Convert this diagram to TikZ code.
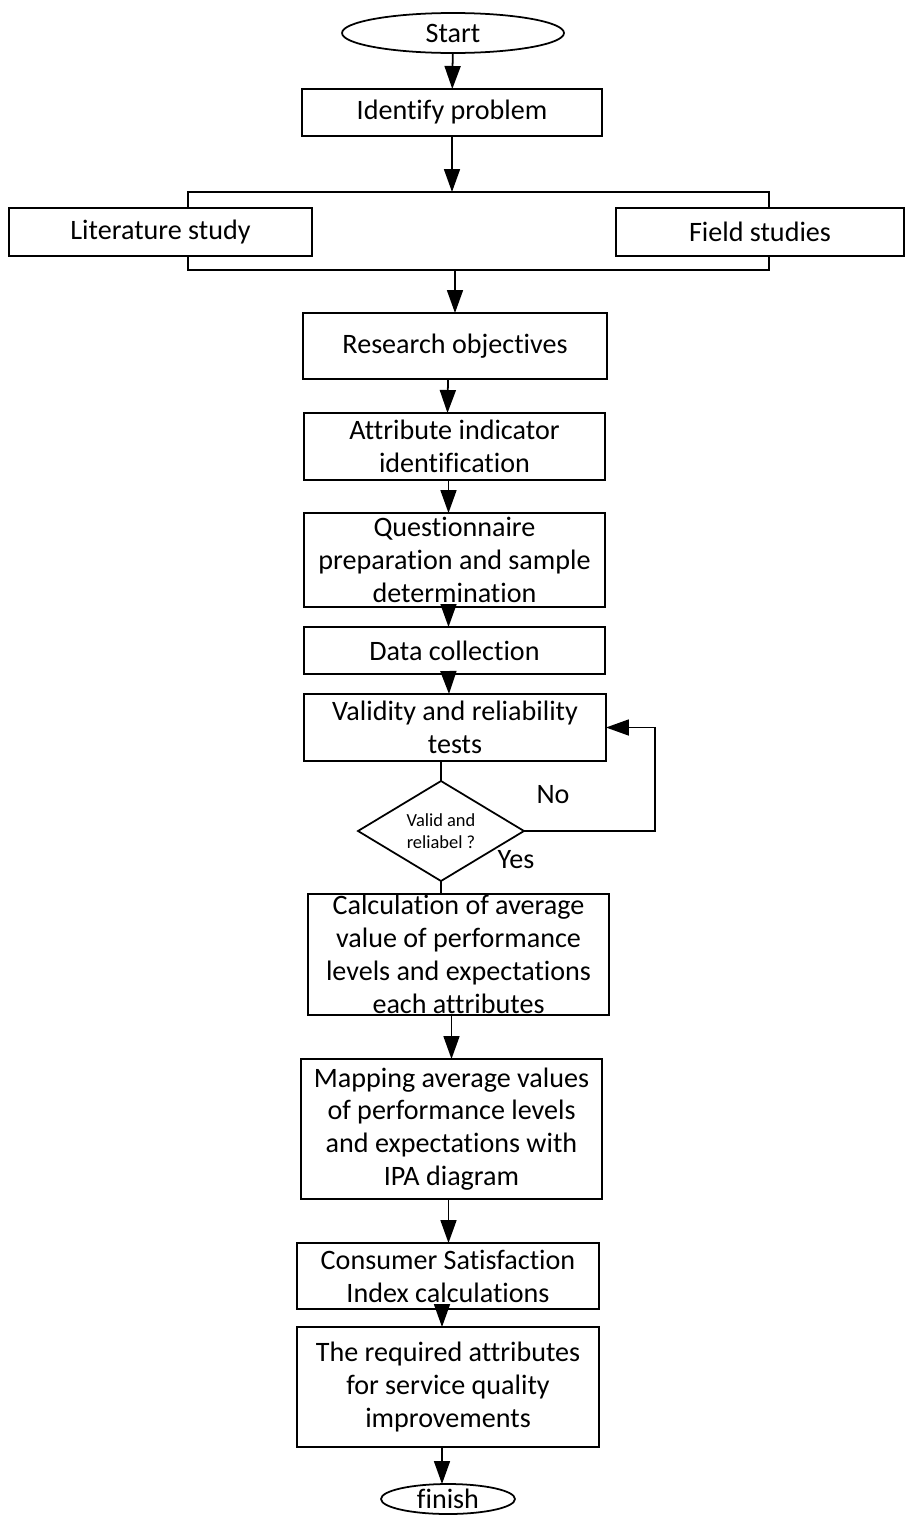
\documentclass[tikz,border=0pt]{standalone}
\usepackage{fontspec}
\setmainfont{Carlito}[Ligatures=NoCommon]
\usetikzlibrary{arrows.meta,shapes.geometric}
\begin{document}
\begin{tikzpicture}[x=0.02cm,y=-0.02cm,
  line width=1pt,
  every node/.style={inner sep=0pt,outer sep=0pt},
  box/.style={draw,rectangle,align=center,font=\fontsize{16}{18.7}\selectfont},
  oval/.style={draw,ellipse,font=\fontsize{16}{18.7}\selectfont},
  lbl/.style={font=\fontsize{16}{18.7}\selectfont},
  arr/.style={-{Triangle[length=0.46cm,width=0.32cm]}}]
\useasboundingbox (0,0) rectangle (906,1515);

\node[oval,minimum width=4.44cm,minimum height=0.8cm] (start) at (453,33) {Start};
\node[box,minimum width=6.0cm,minimum height=0.94cm] (ident) at (452,112.5) {Identify problem};
\node[box,minimum width=6.06cm,minimum height=0.96cm] (lit) at (160.5,232) {Literature study};
\node[box,minimum width=5.76cm,minimum height=0.96cm] (field) at (760,232) {Field studies};
\node[box,minimum width=6.08cm,minimum height=1.32cm] (research) at (455,346) {Research objectives};
\node[box,minimum width=6.02cm,minimum height=1.34cm] (attr) at (454.5,446.5) {Attribute indicator\\identification};
\node[box,minimum width=6.02cm,minimum height=1.88cm] (quest) at (454.5,560) {Questionnaire\\preparation and sample\\determination};
\node[box,minimum width=6.02cm,minimum height=0.94cm] (data) at (454.5,650.5) {Data collection};
\node[box,minimum width=6.04cm,minimum height=1.34cm] (valid) at (455,727.5) {Validity and reliability\\tests};
\node[draw,diamond,aspect=1.66,minimum width=3.32cm,minimum height=2cm,align=center,
  font=\fontsize{10.5}{12.3}\selectfont] (dia) at (441,831) {Valid and\\reliabel ?};
\node[box,minimum width=6.02cm,minimum height=2.42cm] (calc) at (458.5,954.5) {Calculation of average\\value of performance\\levels and expectations\\each attributes};
\node[box,minimum width=6.02cm,minimum height=2.8cm] (map) at (451.5,1129) {Mapping average values\\of performance levels\\and expectations with\\IPA diagram};
\node[box,minimum width=6.04cm,minimum height=1.32cm] (csi) at (448,1276) {Consumer Satisfaction\\Index calculations};
\node[box,minimum width=6.04cm,minimum height=2.4cm] (req) at (448,1387) {The required attributes\\for service quality\\improvements};
\node[oval,minimum width=2.68cm,minimum height=0.6cm] (finish) at (448,1499) {finish};

\node[lbl] (no) at (553,795) {No};
\node[lbl] (yes) at (516,860) {Yes};

\coordinate (tl) at (188,192);
\coordinate (tr) at (769,192);
\coordinate (bl) at (188,270);
\coordinate (br) at (769,270);

\draw[arr] (start) -- (ident);
\draw[arr] (ident.south) -- (ident.south |- tl);
\draw (lit.north -| tl) -- (tl) -- (tr) -- (field.north -| tr);
\draw (lit.south -| bl) -- (bl) -- (br) -- (field.south -| br);
\draw[arr] (research.north |- bl) -- (research.north);
\draw[arr] ([xshift=-0.14cm]research.south) -- ([xshift=-0.14cm]attr.north);
\draw[arr] ([xshift=-0.12cm]attr.south) -- ([xshift=-0.12cm]quest.north);
\draw[arr] ([xshift=-0.12cm]quest.south) -- ([xshift=-0.12cm]data.north);
\draw[arr] ([xshift=-0.12cm]data.south) -- ([xshift=-0.12cm]valid.north);
\draw (dia.north |- valid.south) -- (dia.north);
\draw[arr] (dia.east) -- ++(131,0) |- (valid.east);
\draw (dia.south) -- (dia.south |- calc.north);
\draw[arr] (map.north |- calc.south) -- (map.north);
\draw[arr] ([xshift=-0.06cm]map.south) -- ([xshift=-0.06cm]map.south |- csi.north);
\draw[arr] ([xshift=-0.12cm]csi.south) -- ([xshift=-0.12cm]req.north);
\draw[arr] ([xshift=-0.12cm]req.south) -- ([xshift=-0.12cm]finish.north);
\end{tikzpicture}
\end{document}
